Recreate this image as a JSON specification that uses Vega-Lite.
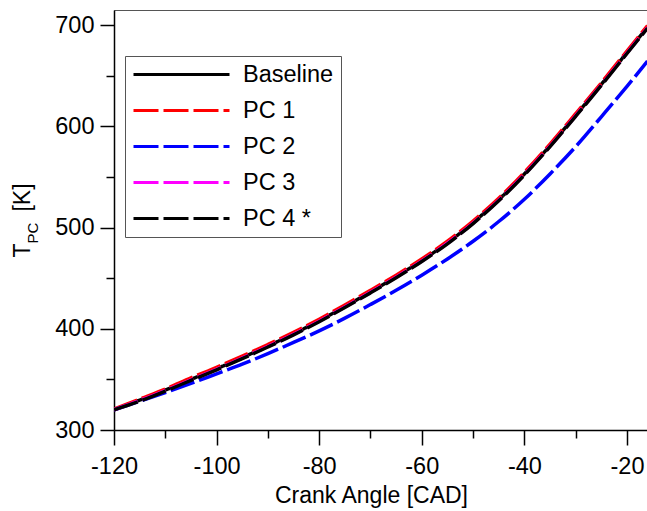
{
  "$schema": "https://vega.github.io/schema/vega-lite/v6.json",
  "autosize": {"type": "none"},
  "padding": {"left": 114, "top": 10, "right": 0, "bottom": 81},
  "width": 534,
  "height": 420,
  "background": "white",
  "config": {
    "view": {"stroke": "#555", "strokeWidth": 1},
    "font": "Liberation Sans",
    "axis": {
      "labelFont": "Liberation Sans", "labelFontSize": 23.5, "labelColor": "black",
      "titleFont": "Liberation Sans", "titleFontSize": 23, "titleFontWeight": "normal", "titleColor": "black",
      "domainColor": "black", "domainWidth": 1.5, "tickColor": "black", "tickWidth": 1.5, "grid": false,
      "labelFlush": false, "labelOverlap": false
    }
  },
  "data": {"values": [
    {"s":"Baseline","x":-120,"y":320},{"s":"Baseline","x":-115,"y":329.5},{"s":"Baseline","x":-110,"y":339.5},{"s":"Baseline","x":-105,"y":350},{"s":"Baseline","x":-100,"y":360.5},{"s":"Baseline","x":-95,"y":371.5},{"s":"Baseline","x":-90,"y":383},{"s":"Baseline","x":-85,"y":395},{"s":"Baseline","x":-80,"y":408},{"s":"Baseline","x":-75,"y":422},{"s":"Baseline","x":-70,"y":436.5},{"s":"Baseline","x":-65,"y":451.5},{"s":"Baseline","x":-60,"y":467.5},{"s":"Baseline","x":-55,"y":485},{"s":"Baseline","x":-50,"y":505},{"s":"Baseline","x":-45,"y":527.5},{"s":"Baseline","x":-40,"y":553},{"s":"Baseline","x":-35,"y":581},{"s":"Baseline","x":-30,"y":611},{"s":"Baseline","x":-25,"y":641.5},{"s":"Baseline","x":-20,"y":673},{"s":"Baseline","x":-16,"y":698},
    {"s":"PC 1","x":-120,"y":320.5},{"s":"PC 1","x":-115,"y":330.5},{"s":"PC 1","x":-110,"y":340.5},{"s":"PC 1","x":-105,"y":351.5},{"s":"PC 1","x":-100,"y":362},{"s":"PC 1","x":-95,"y":373},{"s":"PC 1","x":-90,"y":384.5},{"s":"PC 1","x":-85,"y":396.5},{"s":"PC 1","x":-80,"y":409.5},{"s":"PC 1","x":-75,"y":423.5},{"s":"PC 1","x":-70,"y":438},{"s":"PC 1","x":-65,"y":453},{"s":"PC 1","x":-60,"y":469},{"s":"PC 1","x":-55,"y":486.5},{"s":"PC 1","x":-50,"y":506.5},{"s":"PC 1","x":-45,"y":529},{"s":"PC 1","x":-40,"y":554.5},{"s":"PC 1","x":-35,"y":582.5},{"s":"PC 1","x":-30,"y":612.5},{"s":"PC 1","x":-25,"y":643},{"s":"PC 1","x":-20,"y":674.5},{"s":"PC 1","x":-16,"y":699.5},
    {"s":"PC 2","x":-120,"y":320},{"s":"PC 2","x":-115,"y":328.5},{"s":"PC 2","x":-110,"y":337},{"s":"PC 2","x":-105,"y":346},{"s":"PC 2","x":-100,"y":355.5},{"s":"PC 2","x":-95,"y":365},{"s":"PC 2","x":-90,"y":375.5},{"s":"PC 2","x":-85,"y":386.5},{"s":"PC 2","x":-80,"y":398},{"s":"PC 2","x":-75,"y":410.5},{"s":"PC 2","x":-70,"y":424},{"s":"PC 2","x":-65,"y":438},{"s":"PC 2","x":-60,"y":453},{"s":"PC 2","x":-55,"y":469},{"s":"PC 2","x":-50,"y":486.5},{"s":"PC 2","x":-45,"y":506},{"s":"PC 2","x":-40,"y":528},{"s":"PC 2","x":-35,"y":553},{"s":"PC 2","x":-30,"y":580},{"s":"PC 2","x":-25,"y":609.5},{"s":"PC 2","x":-20,"y":639.5},{"s":"PC 2","x":-16,"y":664.5},
    {"s":"PC 3","x":-120,"y":320},{"s":"PC 3","x":-115,"y":329},{"s":"PC 3","x":-110,"y":339},{"s":"PC 3","x":-105,"y":349.5},{"s":"PC 3","x":-100,"y":360},{"s":"PC 3","x":-95,"y":371},{"s":"PC 3","x":-90,"y":382.5},{"s":"PC 3","x":-85,"y":394.5},{"s":"PC 3","x":-80,"y":407.5},{"s":"PC 3","x":-75,"y":421.5},{"s":"PC 3","x":-70,"y":436},{"s":"PC 3","x":-65,"y":451},{"s":"PC 3","x":-60,"y":467},{"s":"PC 3","x":-55,"y":484.5},{"s":"PC 3","x":-50,"y":504.5},{"s":"PC 3","x":-45,"y":527},{"s":"PC 3","x":-40,"y":552.5},{"s":"PC 3","x":-35,"y":580.5},{"s":"PC 3","x":-30,"y":610.5},{"s":"PC 3","x":-25,"y":641},{"s":"PC 3","x":-20,"y":672.5},{"s":"PC 3","x":-16,"y":697.5},
    {"s":"PC 4 *","x":-120,"y":320},{"s":"PC 4 *","x":-115,"y":328.5},{"s":"PC 4 *","x":-110,"y":338.5},{"s":"PC 4 *","x":-105,"y":349},{"s":"PC 4 *","x":-100,"y":359.5},{"s":"PC 4 *","x":-95,"y":370.5},{"s":"PC 4 *","x":-90,"y":382},{"s":"PC 4 *","x":-85,"y":394},{"s":"PC 4 *","x":-80,"y":407},{"s":"PC 4 *","x":-75,"y":421},{"s":"PC 4 *","x":-70,"y":435.5},{"s":"PC 4 *","x":-65,"y":450.5},{"s":"PC 4 *","x":-60,"y":466.5},{"s":"PC 4 *","x":-55,"y":484},{"s":"PC 4 *","x":-50,"y":504},{"s":"PC 4 *","x":-45,"y":526.5},{"s":"PC 4 *","x":-40,"y":552},{"s":"PC 4 *","x":-35,"y":580},{"s":"PC 4 *","x":-30,"y":610},{"s":"PC 4 *","x":-25,"y":640.5},{"s":"PC 4 *","x":-20,"y":672},{"s":"PC 4 *","x":-16,"y":697}
  ]},
  "layer": [
    {
      "mark": {"type": "line", "strokeWidth": 3.5, "interpolate": "monotone", "clip": true},
      "encoding": {
        "x": {"field": "x", "type": "quantitative",
          "scale": {"domain": [-120, -15.9], "nice": false, "zero": false},
          "axis": {"orient": "bottom", "values": [-120, -100, -80, -60, -40, -20], "tickSize": 15, "labelPadding": 9,
            "labelExpr": "'' + datum.value", "title": "Crank Angle [CAD]", "titlePadding": 7, "titleX": 257}},
        "y": {"field": "y", "type": "quantitative",
          "scale": {"domain": [300, 715], "nice": false, "zero": false},
          "axis": {"orient": "left", "values": [300, 400, 500, 600, 700], "tickSize": 14, "labelPadding": 6,
            "labelExpr": "'' + datum.value", "title": "T\u00a0\u00a0\u00a0\u00a0 [K]", "titleX": -92, "titleBaseline": "middle"}},
        "color": {"field": "s", "type": "nominal",
          "scale": {"domain": ["Baseline", "PC 1", "PC 2", "PC 3", "PC 4 *"], "range": ["#000000", "#ff0000", "#0000ff", "#ff00ff", "#000000"]},
          "legend": {"orient": "none", "legendX": 11, "legendY": 46, "title": null, "strokeColor": "#555", "fillColor": "white", "padding": 7,
            "symbolType": "stroke", "symbolSize": 9216, "symbolStrokeWidth": 3, "clipHeight": 23, "labelFont": "Liberation Sans", "labelFontSize": 23.5, "labelColor": "black",
            "labelOffset": 12, "rowPadding": 12, "labelLimit": 300}},
        "strokeDash": {"field": "s", "type": "nominal",
          "scale": {"domain": ["Baseline", "PC 1", "PC 2", "PC 3", "PC 4 *"], "range": [[1, 0], [25, 5], [25, 5], [25, 5], [25, 5]]},
          "legend": {"orient": "none", "legendX": 11, "legendY": 46, "title": null, "strokeColor": "#555", "fillColor": "white", "padding": 7,
            "symbolType": "stroke", "symbolSize": 9216, "symbolStrokeWidth": 3, "clipHeight": 23, "labelFont": "Liberation Sans", "labelFontSize": 23.5, "labelColor": "black",
            "labelOffset": 12, "rowPadding": 12, "labelLimit": 300}}
      }
    },
    {
      "mark": {"type": "point", "opacity": 0},
      "encoding": {
        "x": {"field": "x", "type": "quantitative",
          "axis": {"orient": "bottom", "values": [-110, -90, -70, -50, -30], "tickSize": 8, "labels": false, "domain": false, "title": null}},
        "y": {"field": "y", "type": "quantitative",
          "axis": {"orient": "left", "values": [350, 450, 550, 650], "tickSize": 8, "labels": false, "domain": false,
            "title": "PC", "titleFontSize": 15, "titleX": -82, "titleY": 222.7, "titleBaseline": "middle", "titleAlign": "center"}}
      }
    }
  ],
  "resolve": {"axis": {"x": "independent", "y": "independent"}}
}
